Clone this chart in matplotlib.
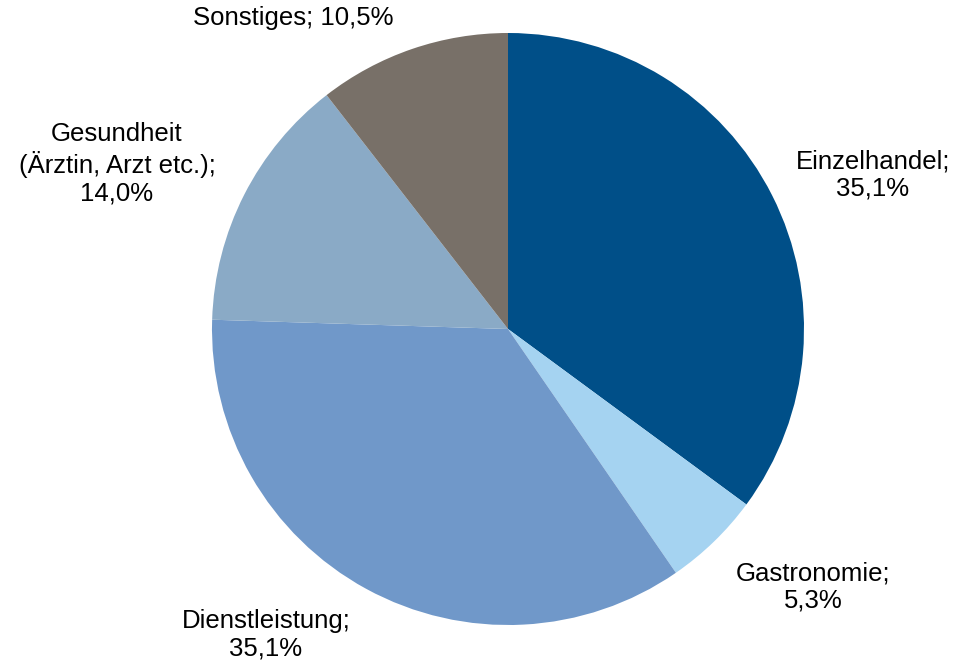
import matplotlib
matplotlib.use("Agg")
import matplotlib.pyplot as plt

categories = ["Einzelhandel", "Gastronomie", "Dienstleistung", "Gesundheit\n(Ärztin, Arzt etc.)", "Sonstiges"]
values = [35.1, 5.3, 35.1, 14.0, 10.5]
labels = ["Einzelhandel;\n35,1%", "Gastronomie;\n5,3%", "Dienstleistung;\n35,1%",
          "Gesundheit\n(Ärztin, Arzt etc.);\n14,0%", "Sonstiges; 10,5%"]
colors = ["#004F88", "#A5D3F1", "#7098C9", "#8AAAC6", "#787068"]
label_pos = [(873, 491), (813, 79), (266, 31), (117, 502), (293, 648)]

plt.rcParams["font.family"] = ["Liberation Sans", "DejaVu Sans"]
fig = plt.figure(figsize=(9.59, 6.66), dpi=100)
ax = fig.add_axes([0, 0, 1, 1])
ax.pie(values, colors=colors, startangle=90, counterclock=False,
       center=(508, 337), radius=296, wedgeprops=dict(linewidth=0))
for lab, (x, y) in zip(labels, label_pos):
    ax.text(x, y, lab, ha="center", va="center", fontsize=18.5, multialignment="center")
ax.set_xlim(0, 959)
ax.set_ylim(0, 666)
ax.set_aspect("equal")
ax.axis("off")
fig.savefig("out.png", dpi=100)
